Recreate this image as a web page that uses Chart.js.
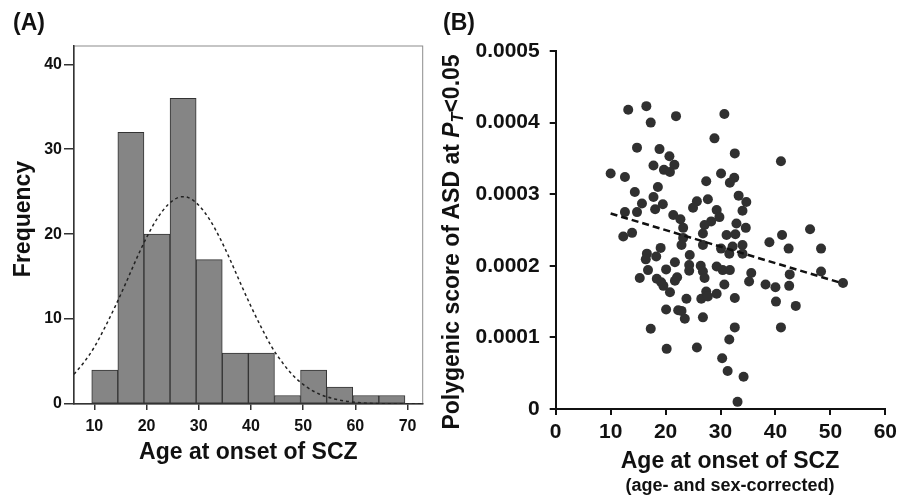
<!doctype html>
<html lang="en">
<head>
<meta charset="utf-8">
<title>Age at onset of SCZ</title>
<style>
  html, body { margin:0; padding:0; background:#fff; overflow:hidden; }
  body { width:902px; height:497px; position:relative; font-family:"Liberation Sans", Arial, sans-serif; }
  canvas { position:absolute; top:0; }
  #chartA { left:0; }
  #chartB { left:440px; }
  .lbl { position:absolute; font-weight:bold; color:#111; white-space:nowrap; line-height:1; }
  .ytitle { transform:translate(-50%,-50%) rotate(-90deg); }
  .ytitle sub { font-size:0.7em; vertical-align:-0.3em; line-height:0; }
</style>
</head>
<body>
  <canvas id="chartA" width="440" height="497"></canvas>
  <canvas id="chartB" width="462" height="497"></canvas>

  <div class="lbl" style="left:13px; top:11px; font-size:23px;">(A)</div>
  <div class="lbl ytitle" style="left:22px; top:219px; font-size:23px;">Frequency</div>
  <div class="lbl" style="left:443px; top:11px; font-size:23px;">(B)</div>
  <div class="lbl ytitle" style="left:451px; top:242px; font-size:23px;">Polygenic score of ASD at <i>P<sub>T</sub></i>&lt;0.05</div>
  <div class="lbl" style="left:580px; width:300px; text-align:center; top:449px; font-size:23px;">Age at onset of SCZ</div>
  <div class="lbl" style="left:580px; width:300px; text-align:center; top:476px; font-size:18px;">(age- and sex-corrected)</div>

<script src="https://cdn.jsdelivr.net/npm/chart.js@4.4.1/dist/chart.umd.min.js"></script>
<script>
  // (A) histogram
  var binCenters = [12, 17, 22, 27, 32, 37, 42, 47, 52, 57, 62, 67];
  var binCounts  = [4, 32, 20, 36, 17, 6, 6, 1, 4, 2, 1, 1];
  var histTicksX = [10, 20, 30, 40, 50, 60, 70];
  var histTicksY = [0, 10, 20, 30, 40];
  // normal curve
  var curveAge  = [6.1, 8, 10, 12, 14, 16, 18, 20, 22, 24, 26, 27, 28, 30, 32, 34, 36, 38, 40, 42, 44, 46, 48, 50, 52, 54, 56, 58, 60, 64, 68, 72.9];
  var curveFreq = [3.5, 4.9, 6.7, 9.0, 11.5, 14.2, 17.0, 19.6, 21.8, 23.4, 24.3, 24.4, 24.3, 23.4, 21.8, 19.6, 17.0, 14.2, 11.5, 9.0, 6.7, 4.9, 3.4, 2.3, 1.5, 0.95, 0.6, 0.35, 0.2, 0.05, 0.01, 0];

  // (B) scatter
  var onsetAge = [13.2, 16.5, 17.3, 21.9, 30.7, 28.9, 14.8, 18.9, 20.7, 17.8, 21.6, 19.7, 20.8, 10.0, 12.6, 30.1, 27.4, 18.6, 14.4, 17.8,
                  15.7, 19.5, 27.7, 25.7, 25.0, 18.1, 29.3, 12.6, 14.8, 21.4, 22.7, 23.2, 29.8, 28.3, 27.1, 13.9, 12.3, 26.8, 23.2, 19.1,
                  22.9, 26.8, 30.1, 32.6, 41.0, 32.5, 31.7, 33.3, 34.7, 34.0, 32.9, 34.6, 46.3, 31.1, 32.7, 38.9, 41.2, 34.0, 32.2, 42.4,
                  48.3, 31.6, 34.0, 30.4, 31.7, 35.6, 35.2, 30.7, 38.2, 40.0, 42.6, 42.5, 48.3, 52.3, 32.6, 40.1, 43.7, 32.6, 41.0, 31.6,
                  30.3, 31.3, 34.2, 33.1, 16.6, 16.4, 18.3, 24.4, 21.7, 24.3, 24.3, 26.4, 26.8, 27.1, 29.3, 20.1, 16.8, 15.3, 18.4, 19.2,
                  19.6, 21.7, 22.1, 20.8, 23.8, 26.5, 27.4, 27.7, 29.3, 20.1, 22.3, 22.9, 23.5, 26.8, 17.3, 20.2, 25.7];
  var asdScore = [0.000418, 0.000423, 0.000400, 0.000409, 0.000412, 0.000378, 0.000365, 0.000363, 0.000353, 0.000340, 0.000341, 0.000334, 0.000331, 0.000329, 0.000324, 0.000329, 0.000318, 0.000310, 0.000303, 0.000296,
                  0.000287, 0.000286, 0.000293, 0.000290, 0.000281, 0.000279, 0.000278, 0.000275, 0.000275, 0.000271, 0.000265, 0.000253, 0.000268, 0.000262, 0.000257, 0.000246, 0.000241, 0.000245, 0.000239, 0.000225,
                  0.000229, 0.000229, 0.000224, 0.000357, 0.000346, 0.000323, 0.000316, 0.000298, 0.000289, 0.000277, 0.000259, 0.000253, 0.000251, 0.000243, 0.000244, 0.000233, 0.000243, 0.000229, 0.000227, 0.000224,
                  0.000224, 0.000217, 0.000217, 0.000194, 0.000194, 0.000190, 0.000178, 0.000174, 0.000174, 0.000170, 0.000188, 0.000172, 0.000192, 0.000176, 0.000155, 0.000150, 0.000144, 0.000114, 0.000114, 0.000097,
                  0.000071, 0.000053, 0.000045, 0.000010, 0.000217, 0.000209, 0.000213, 0.000215, 0.000205, 0.000201, 0.000193, 0.000200, 0.000192, 0.000183, 0.000199, 0.000195, 0.000194, 0.000183, 0.000182, 0.000177,
                  0.000172, 0.000179, 0.000184, 0.000163, 0.000154, 0.000154, 0.000164, 0.000157, 0.000161, 0.000139, 0.000138, 0.000137, 0.000126, 0.000128, 0.000112, 0.000084, 0.000086];
  var fitAge   = [10.0, 52.2];
  var fitScore = [0.000273, 0.0001755];
  var scatTicksX = [0, 10, 20, 30, 40, 50, 60];
  var scatTicksY = [0, 0.0001, 0.0002, 0.0003, 0.0004, 0.0005];
  var scatLabelsY = ['0', '0.0001', '0.0002', '0.0003', '0.0004', '0.0005'];

  var fam = '"Liberation Sans", Arial, sans-serif';
  Chart.defaults.font.family = fam;
  Chart.defaults.color = '#111';

  function pairs(xs, ys) {
    var out = [];
    for (var i = 0; i < xs.length; i++) out.push({x: xs[i], y: ys[i]});
    return out;
  }
  function fixTicks(list) {
    return function(s) { s.ticks = list.map(function(v) { return {value: v}; }); };
  }

  var frame = {
    id: 'frame',
    beforeDraw: function(c) {
      var a = c.chartArea, ctx = c.ctx;
      ctx.save();
      ctx.strokeStyle = '#8c8c8c';
      ctx.lineWidth = 1;
      ctx.strokeRect(a.left, a.top, a.right - a.left, a.bottom - a.top);
      ctx.restore();
    }
  };

  new Chart(document.getElementById('chartA'), {
    type: 'bar',
    data: {
      datasets: [{
        type: 'line',
        data: pairs(curveAge, curveFreq),
        borderColor: '#222',
        borderWidth: 1.5,
        borderDash: [3, 3],
        pointRadius: 0,
        fill: false,
        cubicInterpolationMode: 'monotone',
        order: 0
      }, {
        type: 'bar',
        data: pairs(binCenters, binCounts),
        backgroundColor: '#858585',
        borderColor: '#333',
        borderWidth: 1,
        borderSkipped: false,
        barPercentage: 1,
        categoryPercentage: 1,
        grouped: false,
        order: 1
      }]
    },
    options: {
      responsive: false,
      animation: false,
      layout: { padding: { top: 46, right: 17.3, bottom: 0, left: 0 } },
      plugins: { legend: { display: false }, tooltip: { enabled: false } },
      scales: {
        x: {
          type: 'linear', min: 6.1, max: 72.9, offset: false,
          afterBuildTicks: fixTicks(histTicksX),
          afterFit: function(s) { s.height = 93; },
          grid: { offset: false, drawOnChartArea: false, tickLength: 6, color: '#333', lineWidth: 1.5 },
          border: { color: '#333', width: 1.5 },
          ticks: { autoSkip: false, maxRotation: 0, padding: 7, color: '#111', font: { size: 16, weight: 'bold' } },
          title: { display: true, text: 'Age at onset of SCZ', color: '#111', font: { size: 23, weight: 'bold' }, padding: { top: 0, bottom: 31 } }
        },
        y: {
          type: 'linear', min: 0, max: 42.15,
          afterBuildTicks: fixTicks(histTicksY),
          afterFit: function(s) { s.width = 74; },
          grid: { drawOnChartArea: false, tickLength: 10, color: '#333', lineWidth: 1.5 },
          border: { color: '#333', width: 1.5 },
          ticks: { autoSkip: false, padding: 2, color: '#111', font: { size: 16, weight: 'bold' } }
        }
      }
    },
    plugins: [frame]
  });

  new Chart(document.getElementById('chartB'), {
    type: 'scatter',
    data: {
      datasets: [{
        type: 'line',
        data: pairs(fitAge, fitScore),
        borderColor: '#111',
        borderWidth: 2.5,
        borderDash: [7, 4],
        pointRadius: 0,
        fill: false,
        order: 0
      }, {
        type: 'scatter',
        data: pairs(onsetAge, asdScore),
        backgroundColor: '#303030',
        borderWidth: 0,
        pointRadius: 5,
        clip: false,
        order: 1
      }]
    },
    options: {
      responsive: false,
      animation: false,
      layout: { padding: { top: 51, right: 12, bottom: 0, left: 0 } },
      plugins: { legend: { display: false }, tooltip: { enabled: false } },
      scales: {
        x: {
          type: 'linear', min: 0, max: 60,
          afterBuildTicks: fixTicks(scatTicksX),
          afterFit: function(s) { s.height = 88; },
          grid: { drawOnChartArea: false, tickLength: 6, color: '#111', lineWidth: 2 },
          border: { color: '#111', width: 2 },
          ticks: { autoSkip: false, maxRotation: 0, padding: 5, color: '#111', font: { size: 21, weight: 'bold' } }
        },
        y: {
          type: 'linear', min: 0, max: 0.0005,
          afterBuildTicks: fixTicks(scatTicksY),
          afterFit: function(s) { s.width = 115.7; },
          grid: { drawOnChartArea: false, tickLength: 6, color: '#111', lineWidth: 2 },
          border: { color: '#111', width: 2 },
          ticks: {
            autoSkip: false, padding: 10, color: '#111', font: { size: 21, weight: 'bold' },
            callback: function(v, i) { return scatLabelsY[i]; }
          }
        }
      }
    }
  });
</script>
</body>
</html>
